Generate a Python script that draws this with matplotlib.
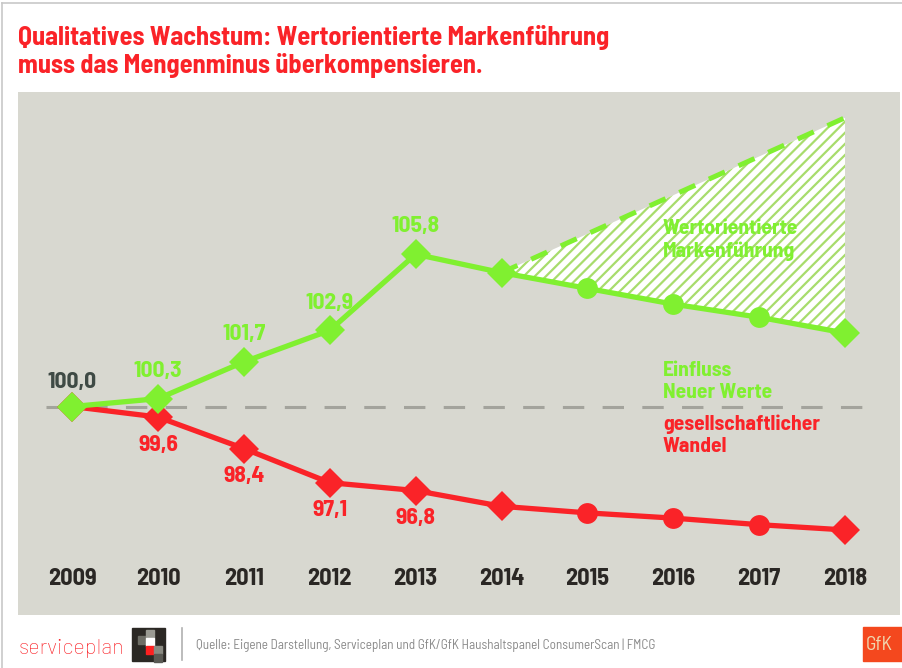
import matplotlib.pyplot as plt
from matplotlib.patches import Rectangle
from matplotlib.lines import Line2D

plt.rcParams['font.family'] = ['Barlow Semi Condensed', 'DejaVu Sans']
plt.rcParams['font.stretch'] = 'condensed'
plt.rcParams['hatch.linewidth'] = 1.6

years = [2009, 2010, 2011, 2012, 2013, 2014, 2015, 2016, 2017, 2018]
werte = [100.0, 100.3, 101.7, 102.9, 105.8, 105.1, 104.5, 103.9, 103.4, 102.8]
wandel = [100.0, 99.6, 98.4, 97.1, 96.8, 96.2, 95.95, 95.75, 95.5, 95.3]
ziel_years = [2014, 2018]
ziel = [105.1, 111.0]
werte_labels = ['100,3', '101,7', '102,9', '105,8']
wandel_labels = ['99,6', '98,4', '97,1', '96,8']

GREEN = '#80f030'
RED = '#fa2328'
BG = '#d8d8d0'

fig = plt.figure(figsize=(9.02, 6.68), dpi=100)
fig.patch.set_facecolor('white')

# frame around the picture
fig.add_artist(Line2D([2 / 902, 2 / 902], [0, 665 / 668], color='#c8c8c8', lw=1.2))
fig.add_artist(Line2D([2 / 902, 1], [665 / 668, 665 / 668], color='#c8c8c8', lw=1.2))

fig.text(18 / 902, 1 - 37 / 668, 'Qualitatives Wachstum: Wertorientierte Markenführung',
         color=RED, fontsize=19, fontweight='bold', va='center')
fig.text(18 / 902, 1 - 66 / 668, 'muss das Mengenminus überkompensieren.',
         color=RED, fontsize=19, fontweight='bold', va='center')

ax = fig.add_axes([18 / 902, 53 / 668, 882 / 902, 523 / 668])
ax.set_facecolor(BG)
for s in ax.spines.values():
    s.set_visible(False)
ax.set_xticks([])
ax.set_yticks([])
ax.set_xlim(2008.37, 2018.64)
ax.set_ylim(92.06, 111.98)

# baseline
ax.plot([2008.7, 2018.3], [100, 100], color='#a3a39c', lw=2.2, dashes=(7, 6), zorder=1)

# hatched area between target and actual
i0 = years.index(2014)
ziel_line = [ziel[0] + (ziel[1] - ziel[0]) * (y - ziel_years[0]) / (ziel_years[1] - ziel_years[0])
             for y in years[i0:]]
ax.fill_between(years[i0:], werte[i0:], ziel_line, facecolor='white',
                edgecolor='#a8dc6c', hatch='///', lw=0, zorder=2)
ax.plot(ziel_years, ziel, color=GREEN, lw=3.6, dashes=(3.5, 3), zorder=3)

# lines
ax.plot(years, wandel, color=RED, lw=3.8, zorder=4)
ax.plot(years, werte, color=GREEN, lw=3.8, zorder=5)

circ = [y in (2015, 2016, 2017) for y in years]
for vals, col, z in [(wandel, RED, 4), (werte, GREEN, 5)]:
    ax.plot([y for y, c in zip(years, circ) if not c], [v for v, c in zip(vals, circ) if not c],
            'D', color=col, ms=15, mew=0, zorder=z)
    ax.plot([y for y, c in zip(years, circ) if c], [v for v, c in zip(vals, circ) if c],
            'o', color=col, ms=15, mew=0, zorder=z)

# value labels
ax.annotate('100,0', (years[0], werte[0]), xytext=(0, 18), textcoords='offset points',
            ha='center', va='center', color='#3f4a45', fontsize=17, fontweight='bold')
for y, v, t in zip(years[1:5], werte[1:5], werte_labels):
    ax.annotate(t, (y, v), xytext=(0, 20), textcoords='offset points',
                ha='center', va='center', color=GREEN, fontsize=17, fontweight='bold')
for y, v, t in zip(years[1:5], wandel[1:5], wandel_labels):
    ax.annotate(t, (y, v), xytext=(0, -20), textcoords='offset points',
                ha='center', va='center', color=RED, fontsize=17, fontweight='bold')

# year labels
for y in years:
    ax.text(y, 93.45, str(y), ha='center', va='center', color='#2a2724',
            fontsize=17.5, fontweight='bold')

# annotations
ax.text(2015.88, 106.35, 'Wertorientierte\nMarkenführung', color=GREEN, fontsize=15.5,
        fontweight='bold', ha='left', va='center', linespacing=1.2, zorder=6)
ax.text(2015.88, 100.95, 'Einfluss\nNeuer Werte', color=GREEN, fontsize=15.5,
        fontweight='bold', ha='left', va='center', linespacing=1.2)
ax.text(2015.88, 98.9, 'gesellschaftlicher\nWandel', color=RED, fontsize=15.5,
        fontweight='bold', ha='left', va='center', linespacing=1.2)

# footer
fig.text(18 / 902, 1 - 648 / 668, 'serviceplan', color=RED, fontsize=15.5,
         family=['Barlow', 'DejaVu Sans'], fontweight='light', va='center')
fig.patches.append(Rectangle((132 / 902, 1 - 661 / 668), 33 / 902, 33 / 668,
                             transform=fig.transFigure, color='#2b2824'))
for (px, py, c) in [(138, 636, '#6e6e66'), (146, 630, '#9a9a92'), (146, 638, 'white'),
                    (146, 646, '#ff2020'), (154, 646, '#8a8a82'), (154, 654, '#5a5a54')]:
    fig.patches.append(Rectangle((px / 902, 1 - (py + 8) / 668), 8 / 902, 8 / 668,
                                 transform=fig.transFigure, color=c))
fig.add_artist(Line2D([182 / 902, 182 / 902], [1 - 660 / 668, 1 - 628 / 668],
                      color='#b0b0b0', lw=1.2))
fig.text(196 / 902, 1 - 645 / 668,
         'Quelle: Eigene Darstellung, Serviceplan und GfK/GfK Haushaltspanel ConsumerScan | FMCG',
         color='#8a8a8a', fontsize=9.5, va='center')
fig.patches.append(Rectangle((863 / 902, 1 - 661 / 668), 39 / 902, 34 / 668,
                             transform=fig.transFigure, color='#f4481e'))
fig.text(866 / 902, 1 - 645 / 668, 'GfK', color='#f0d8b0', fontsize=14, va='center')

fig.savefig('out.png', dpi=100, facecolor='white')
